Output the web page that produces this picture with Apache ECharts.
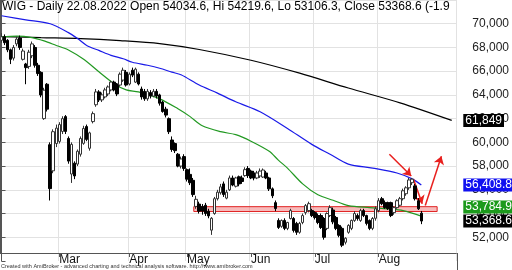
<!DOCTYPE html>
<html><head><meta charset="utf-8">
<script src="https://cdn.jsdelivr.net/npm/echarts@6/dist/echarts.min.js"></script>
<style>html,body{margin:0;padding:0;background:#fff}#c{width:512px;height:270px}</style>
</head><body><div id="c"></div><script>
// trading days (2022) per month
const febDays=[2,3,4,7,8,9,10,11,14,15,16,17,18,21,22,23,24,25,28];
const marDays=[1,2,3,4,7,8,9,10,11,14,15,16,17,18,21,22,23,24,25,28,29,30,31];
const aprDays=[1,4,5,6,7,8,11,12,13,14,19,20,21,22,25,26,27,28,29];
const mayDays=[2,4,5,6,9,10,11,12,13,16,17,18,19,20,23,24,25,26,27,30,31];
const junDays=[1,2,3,6,7,8,9,10,13,14,15,17,20,21,22,23,24,27,28,29,30];
const julDays=[1,4,5,6,7,8,11,12,13,14,15,18,19,20,21,22,25,26,27,28,29];
const augDays=[1,2,3,4,5,8,9,10,11,12,16,17,18,19,22];
const monthNames=['Jan','Feb','Mar','Apr','May','Jun','Jul','Aug','Sep','Oct','Nov','Dec'];
const padSlots=11;

const openV=[68600,68900,68600,67800,67100,68300,68800,67000,66600,66400,67300,68000,66500,65900,62000,64900,59800,57600,59900,
60080,60920,62170,60330,57330,58250,58170,59000,59920,61330,59500,61750,63170,64250,63580,63830,64080,64420,65080,64920,64830,65250,65900,
64920,66080,65080,65750,64500,64300,63670,64200,63900,64300,64000,63400,62800,62000,60200,59900,59000,58000,58800,
57700,57300,56800,54600,54800,54600,54700,54200,52600,54000,55250,55750,56500,55300,56000,57000,56300,57100,57000,57200,57800,
57580,57420,57000,57170,57080,57420,57000,56080,54920,53420,52920,53420,52750,53580,53580,53170,52420,53250,54080,54250,54250,
54080,53830,53830,53580,52750,53830,54300,53670,53000,52750,51580,52420,52750,53420,53830,53420,54250,53830,53420,52750,53600,
54250,55250,54920,54920,54920,54080,54500,54700,55250,55670,56170,56600,56330,55080,54034.6];
const highV=[69200,69100,68700,67900,68200,68900,69000,67900,66700,67800,68500,68200,66700,66000,64600,65000,60000,61100,61500,
61700,62200,62300,60500,60000,58400,59400,60500,61400,61500,60900,62600,64500,64400,64200,64600,64800,65200,65200,65000,65900,66300,66100,
65900,66300,66300,65900,64700,64500,64500,64400,64500,64500,64100,63500,63000,62100,60500,60000,59100,58800,59000,
57800,57800,57000,55500,55000,54800,54900,54400,53700,55400,56000,56500,56700,56000,57200,57200,57100,57200,57200,57900,58000,
57700,57600,57600,57800,57800,57600,57100,56200,55100,53600,53500,53600,53300,54400,53700,53300,53300,54000,54800,55000,54400,
54200,54000,54000,53700,54100,54700,54500,53800,53100,52900,52000,53100,53500,54200,54000,54400,54400,53900,53500,53700,54600,
55300,55400,55100,55000,55000,54600,55200,55400,56100,56300,57000,57000,56500,55300,54219.6];
const lowV=[68400,68200,67600,66600,66900,68100,67800,66900,64900,66200,67100,66300,65600,63800,61900,62600,55100,57400,59600,
59900,60700,60700,58200,56580,56900,58000,58800,59800,60100,59300,61600,63000,63400,63400,63700,63900,64300,64300,63900,64700,65100,64700,
64800,65500,65000,64800,63600,63500,63500,63700,63800,63700,63100,62500,62100,60700,59200,59100,57900,57800,57600,
56700,56400,55400,54400,54000,53900,53800,53600,52200,53900,55100,55600,55400,55200,55900,56300,56200,56300,56500,57100,57000,
56900,56800,56900,57000,57000,56900,55900,55300,54200,52700,52800,52600,52600,53500,52400,52200,52300,53100,53900,54100,53700,
53500,53100,52700,51800,52600,53700,53100,52600,52000,51170,51400,52300,52600,53300,53400,53300,53700,53000,52600,52600,53400,
54100,54700,54400,54300,53700,53900,54400,54600,55100,55500,56000,56400,55100,54300,53106.3];
const closeV=[68900,68400,67800,67000,68000,68700,68000,67700,66300,67600,68300,66500,65800,64000,64400,62800,56100,60900,61200,
61500,62000,60920,58420,59830,57170,59250,60330,61170,60250,60800,62420,64250,63580,64000,64420,64670,65080,64420,64080,65750,66080,64830,
65750,65670,66170,64920,63830,63670,64300,63900,64300,63900,63300,62600,62300,60900,59400,59300,58000,58600,57800,
56900,56600,55600,55200,54200,54200,54000,53800,53600,55250,55800,56250,55600,55800,57000,56400,57000,56500,56700,57700,57200,
57000,57000,57420,57580,57670,57000,56080,55500,54420,52830,53420,52750,53250,54250,52580,52420,53170,53830,54670,54830,53830,
53670,53250,52830,52000,54000,54500,53300,52750,52170,51330,51920,53000,53420,54000,53580,54250,53830,53170,52750,53580,54400,
55080,54830,54500,54420,53830,54500,55080,55250,55920,56170,56830,56900,55250,54400,53368.6];

// moving averages read at sample bars: green (short), blue (medium), black (long)
const maGreenIdx=[0,5,10,14,18,22,27,32,37,41,45,52,58,62,66,72,77,82,88,91,94,99,104,109,114,121,127,132,138];
const maGreenVal=[68900,68950,68830,68550,68170,67790,67000,65950,64950,64420,64250,63670,62830,62170,61400,60900,60650,60100,59250,58500,57830,56500,55580,55120,54670,54500,54390,54250,53784.9];
const maBlueIdx=[0,8,16,22,25,28,32,36,40,43,48,52,56,59,65,71,77,85,94,102,108,114,122,130,135,138];
const maBlueVal=[70670,70330,70000,69250,68750,68170,67750,67330,67050,66750,66500,66250,65920,65700,64830,64150,63420,62580,61170,59830,59000,58170,57830,57420,56920,56408.8];
const maBlackIdx=[0,13,26,39,52,65,82,98,114,131,148];
const maBlackVal=[68920,68830,68750,68580,68330,67830,66920,65830,64580,63330,61849];

// support band and arrows (bar position, value)
const bandX=[63.2,143.2];
const bandY=[54170,54580];
const arrows=[[[127.5,59000],[134.7,57170]],[[135.4,56920],[138.3,54830]],[[139.3,54670],[144.6,58830]]];

const yTicks={min:50000,max:72000,step:2000};

const dates=[];
[[2,febDays],[3,marDays],[4,aprDays],[5,mayDays],[6,junDays],[7,julDays],[8,augDays]].forEach(([m,ds])=>ds.forEach(d=>dates.push('2022-'+String(m).padStart(2,'0')+'-'+String(d).padStart(2,'0'))));
const categories=dates.concat(Array.from({length:padSlots},(_,i)=>'pad'+i));
const monthStart=new Set();
for(let i=1;i<dates.length;i++){ if(dates[i].slice(5,7)!==dates[i-1].slice(5,7)) monthStart.add(i); }
const nCat=categories.length;
const ohlc=openV.map((o,i)=>[o,closeV[i],lowV[i],highV[i]]);
const fmt=v=>{const s=String(v).split('.');return s[0].replace(/\B(?=(\d{3})+(?!\d))/g,',')+(s[1]?'.'+s[1]:'');};
const last=ohlc.length-1;
const FONT='Liberation Sans';
const nSplit=(yTicks.max-yTicks.min)/yTicks.step+1;
const splitColors=['rgba(0,0,0,0)'].concat(Array(nSplit-1).fill('#e2e2e2'));

function priceLabel(bg, offsetY){
  return {show:true,position:'end',distance:7,formatter:p=>fmt(p.value),backgroundColor:bg,color:'#fff',
    padding:[1,2,0,2],fontSize:12,fontFamily:FONT,lineHeight:12,offset:[0,offsetY||0]};
}
function priceLine(val,bg,offsetY){
  return {silent:true,symbol:'none',animation:false,lineStyle:{color:'rgba(0,0,0,0)',width:0},
    label:priceLabel(bg,offsetY),emphasis:{disabled:true},data:[{yAxis:val}]};
}

const chart=echarts.init(document.getElementById('c'),null,{renderer:'canvas'});
chart.setOption({
  animation:false,
  backgroundColor:'#fff',
  title:{text:'WIG - Daily 22.08.2022 Open '+openV[last]+', Hi '+highV[last]+', Lo '+lowV[last]+', Close '+closeV[last]+' (-1.9%)',
    left:2,top:1,padding:0,
    textStyle:{fontSize:12,fontWeight:'normal',fontFamily:FONT,color:'#000',width:458,overflow:'truncate',ellipsis:''}},
  grid:{left:0,right:55,top:-3,bottom:9,containLabel:false},
  xAxis:[
    {type:'category',data:categories,boundaryGap:true,offset:-8,
     axisLine:{show:true,lineStyle:{color:'#555',width:1}},
     axisTick:{show:true,alignWithLabel:true,length:4,interval:i=>monthStart.has(i),lineStyle:{color:'#555'}},
     axisLabel:{interval:i=>monthStart.has(i),formatter:v=>monthNames[parseInt(v.slice(5,7),10)-1],align:'left',
       margin:1,fontSize:12,fontFamily:FONT,color:'#111',verticalAlign:'top',lineHeight:12},
     splitLine:{show:true,interval:i=>monthStart.has(i),lineStyle:{color:'#e2e2e2'}}},
    {type:'value',min:-0.5,max:nCat-0.5,show:false}
  ],
  yAxis:[{type:'value',position:'right',min:yTicks.min,max:yTicks.max,interval:yTicks.step,
    axisLine:{show:true,lineStyle:{color:'#555'}},
    axisTick:{show:true,length:4,lineStyle:{color:'#555'}},
    axisLabel:{margin:16,fontSize:12,fontFamily:FONT,color:'#222',
      formatter:v=>(v===yTicks.min||v===yTicks.max)?'':fmt(v)},
    splitLine:{show:true,lineStyle:{color:splitColors}}}],
  series:[
    {type:'line',xAxisIndex:1,yAxisIndex:0,data:[],z:1,silent:true,
     markArea:{silent:true,itemStyle:{color:'rgba(240,120,120,0.5)',borderColor:'#e02424',borderWidth:1},
       data:[[{coord:[bandX[0],bandY[0]]},{coord:[bandX[1],bandY[1]]}]]}},
    {name:'long',type:'line',xAxisIndex:1,yAxisIndex:0,data:maBlackIdx.map((x,i)=>[x,maBlackVal[i]]),
     showSymbol:false,smooth:0.3,clip:false,lineStyle:{color:'#000',width:1.2},z:4,silent:true,
     markLine:priceLine(maBlackVal[maBlackVal.length-1],'#000',0)},
    {name:'mid',type:'line',xAxisIndex:1,yAxisIndex:0,data:maBlueIdx.map((x,i)=>[x,maBlueVal[i]]),
     showSymbol:false,smooth:0.3,clip:false,lineStyle:{color:'#1a1ae8',width:1.2},z:4,silent:true,
     markLine:priceLine(maBlueVal[maBlueVal.length-1],'#1010f0',0)},
    {name:'short',type:'line',xAxisIndex:1,yAxisIndex:0,data:maGreenIdx.map((x,i)=>[x,maGreenVal[i]]),
     showSymbol:false,smooth:0.3,clip:false,lineStyle:{color:'#229922',width:1.2},z:4,silent:true,
     markLine:priceLine(maGreenVal[maGreenVal.length-1],'#1c9a1c',-9)},
    {name:'WIG',type:'candlestick',xAxisIndex:0,yAxisIndex:0,data:ohlc,barWidth:3,clip:false,z:5,silent:true,
     itemStyle:{color:'#ffffff',color0:'#000000',borderColor:'#333',borderColor0:'#000',borderWidth:1},
     markLine:priceLine(closeV[last],'#000',0)},
    {type:'line',xAxisIndex:1,yAxisIndex:0,data:[],z:6,silent:true,
     markLine:{silent:true,symbol:['none','arrow'],symbolSize:8,animation:false,
       lineStyle:{color:'#e8201e',width:1.5,type:'solid'},label:{show:false},emphasis:{disabled:true},
       data:arrows.map(a=>[{coord:a[0]},{coord:a[1]}])}}
  ],
  graphic:[
    {type:'line',shape:{x1:0.5,y1:0,x2:0.5,y2:253},style:{stroke:'#555',lineWidth:1},z:10},
    {type:'line',shape:{x1:457.5,y1:253,x2:457.5,y2:270},style:{stroke:'#555',lineWidth:1},z:10},
    {type:'text',left:1,top:263,style:{text:'Created with AmiBroker - advanced charting and technical analysis software. http://www.amibroker.com',
      fontSize:5.5,fontFamily:FONT,fill:'#333'},z:10}
  ]
});
</script></body></html>
